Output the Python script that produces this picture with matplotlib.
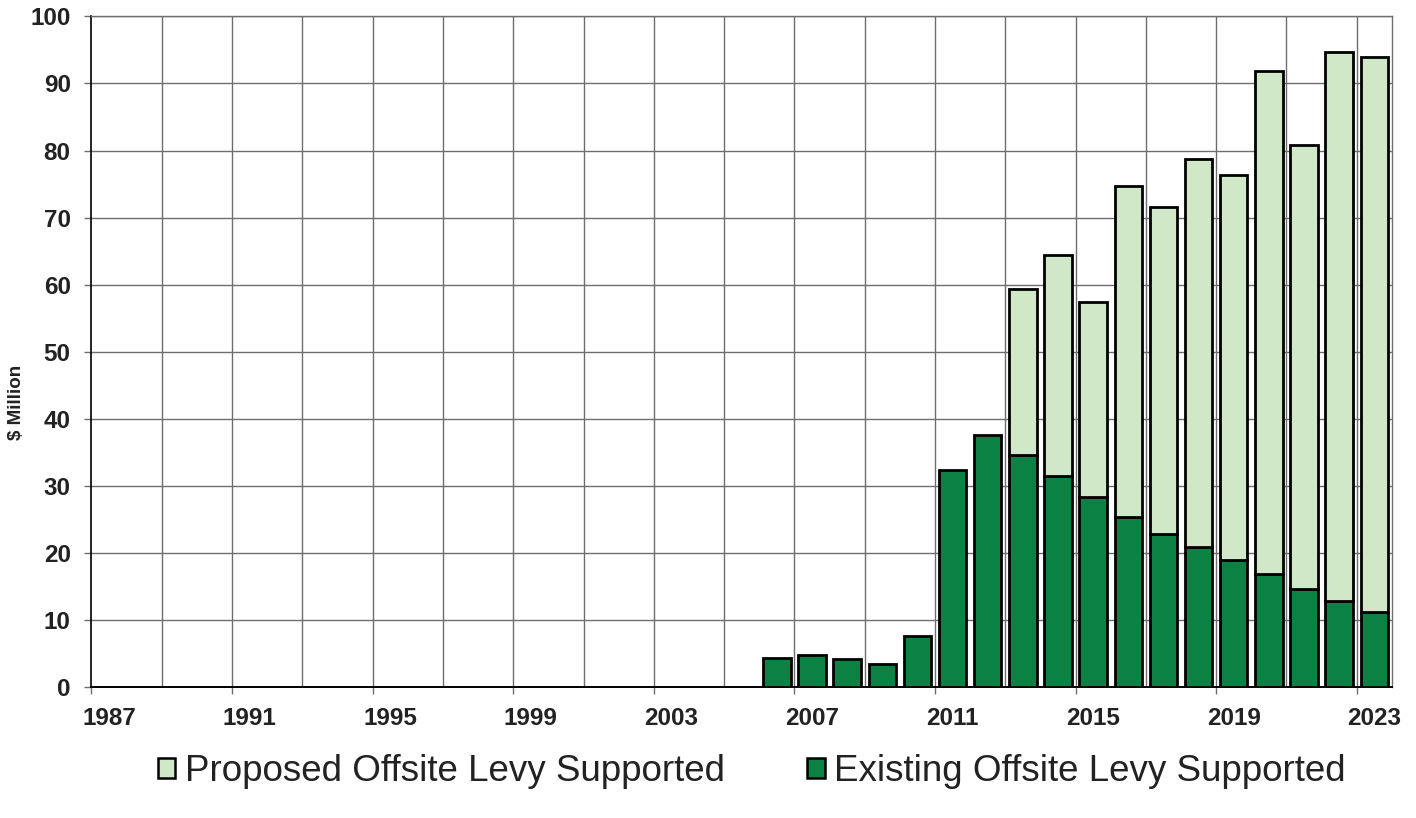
import matplotlib.pyplot as plt
from matplotlib.patches import Patch

plt.rcParams['font.family'] = ['Liberation Sans', 'DejaVu Sans']

# Category axis runs over every year, data only from 2006 on
years = list(range(1987, 2024))
bar_years = [2006, 2007, 2008, 2009, 2010, 2011, 2012, 2013, 2014,
             2015, 2016, 2017, 2018, 2019, 2020, 2021, 2022, 2023]
existing = [4.4, 4.8, 4.2, 3.5, 7.6, 32.4, 37.6, 34.6, 31.5,
            28.4, 25.4, 22.9, 20.9, 18.9, 16.9, 14.7, 12.9, 11.2]
proposed = [0, 0, 0, 0, 0, 0, 0, 24.8, 32.9,
            29.1, 49.3, 48.7, 57.8, 57.5, 75.0, 66.1, 81.8, 82.7]
year_labels = [1987, 1991, 1995, 1999, 2003, 2007, 2011, 2015, 2019, 2023]

dark_green = '#0B8243'
light_green = '#D1E8C8'
grid_grey = '#6E6E6E'
text_col = '#222222'

fig = plt.figure(figsize=(14.16, 8.18), dpi=100)
ax = fig.add_axes([0.0646, 0.1598, 0.9184, 0.8202])

pos = [years.index(y) for y in bar_years]
ax.bar(pos, existing, width=0.78, color=dark_green, edgecolor='black',
       linewidth=2.0, zorder=3)
prop_pos = [p for p, v in zip(pos, proposed) if v > 0]
prop_val = [v for v in proposed if v > 0]
prop_base = [e for e, v in zip(existing, proposed) if v > 0]
ax.bar(prop_pos, prop_val, bottom=prop_base, width=0.78, color=light_green,
       edgecolor='black', linewidth=2.0, zorder=3)

ax.set_xlim(-0.5, len(years) - 0.5)
ax.set_ylim(0, 100)

# Year labels sit on category centres, tick marks on category boundaries
ax.set_xticks([years.index(y) for y in year_labels])
ax.set_xticklabels([str(y) for y in year_labels])
ax.set_xticks([i - 0.5 for i in range(0, len(years), 4)], minor=True)
ax.tick_params(axis='x', which='major', length=0, pad=14,
               labelsize=17.5)
ax.tick_params(axis='x', which='minor', length=5, width=1,
               color=grid_grey, direction='out')
for i in range(2, len(years), 2):
    ax.axvline(i - 0.5, color=grid_grey, linewidth=1, zorder=1)

ax.set_yticks(range(0, 101, 10))
ax.tick_params(axis='y', length=5, width=1, color=grid_grey, pad=10,
               labelsize=17.5)
ax.yaxis.grid(True, color=grid_grey, linewidth=1, zorder=1)
ax.set_axisbelow(True)

for lab in ax.get_xticklabels() + ax.get_yticklabels():
    lab.set_fontweight('bold')
    lab.set_color(text_col)

ax.set_ylabel('$ Million', fontsize=13.5, fontweight='bold', color=text_col)
ax.yaxis.set_label_coords(-0.051, 0.425)

for side in ['top', 'right']:
    ax.spines[side].set_color(grid_grey)
    ax.spines[side].set_linewidth(1)
ax.spines['left'].set_linewidth(1.2)
ax.spines['bottom'].set_linewidth(1.4)

handles = [Patch(facecolor=light_green, edgecolor='black', linewidth=1.8,
                 label='Proposed Offsite Levy Supported'),
           Patch(facecolor=dark_green, edgecolor='black', linewidth=1.8,
                 label='Existing Offsite Levy Supported')]
fig.legend(handles=handles, loc='center', bbox_to_anchor=(0.531, 0.0565),
           ncol=2, frameon=False, fontsize=26.5, handlelength=0.48,
           handleheight=0.48, handletextpad=0.25, columnspacing=2.25,
           labelcolor=text_col)

fig.savefig('out.png', dpi=100)
